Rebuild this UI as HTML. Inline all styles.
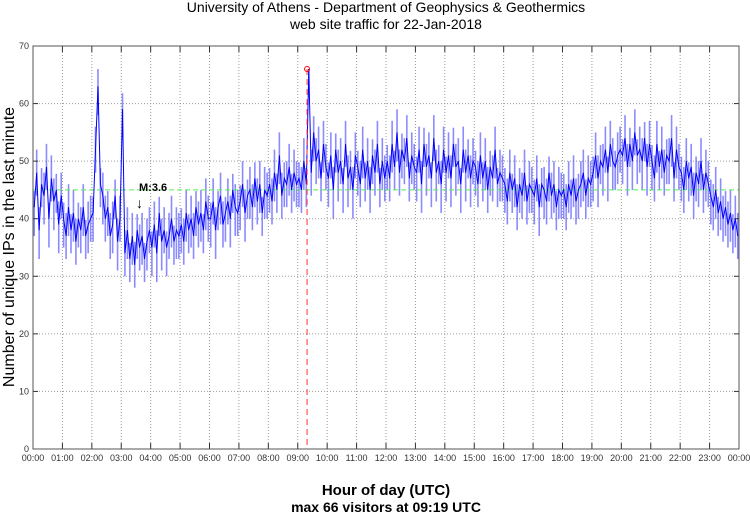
<!DOCTYPE html>
<html><head><meta charset="utf-8"><style>
body{margin:0;background:#fff;}
svg{display:block;font-family:"Liberation Sans",sans-serif;}
</style></head><body>
<svg id="chart" width="750" height="515">
<text x="386" y="12" text-anchor="middle" font-size="14">University of Athens - Department of Geophysics &amp; Geothermics</text>
<text x="386" y="29" text-anchor="middle" font-size="14">web site traffic for 22-Jan-2018</text>
<text transform="translate(14,247) rotate(-90)" text-anchor="middle" font-size="16">Number of unique IPs in the last minute</text>
<text x="386" y="495" text-anchor="middle" font-size="15" font-weight="bold">Hour of day (UTC)</text>
<text x="386" y="512" text-anchor="middle" font-size="14" font-weight="bold">max 66 visitors at 09:19 UTC</text>
<g id="grid"></g><g id="series"></g><g id="axes"></g>
</svg>
<script>
const yTicks=[0,10,20,30,40,50,60,70];
const xLabels=["00:00","01:00","02:00","03:00","04:00","05:00","06:00","07:00","08:00","09:00","10:00","11:00","12:00","13:00","14:00","15:00","16:00","17:00","18:00","19:00","20:00","21:00","22:00","23:00","00:00"];
const meanValue=45;
const maxValue=66;
const maxMinute=559;
// per-5-minute spread (low, high offsets) of the minute samples
const spreadLow=5;
const spreadHigh=4;
// 5-minute samples (288)
const traffic=[
42,48,38,46,44,49,40,47,43,45,39,44,
40,37,42,38,41,36,40,38,42,37,39,40,
41,52,63,46,44,40,42,37,39,44,36,40,
59,34,38,33,37,32,38,35,37,33,36,38,
35,39,34,41,36,38,35,37,40,36,38,37,
39,36,41,38,40,37,42,39,41,38,43,40,
40,43,38,42,44,39,41,43,40,45,42,41,
43,46,41,44,45,42,47,43,46,41,45,44,
46,43,48,45,51,44,47,46,49,45,48,46,
47,45,50,46,66,48,55,50,52,47,53,49,
47,51,45,52,48,50,46,53,47,49,45,51,
49,46,52,47,50,45,51,48,53,46,50,47,
50,47,53,49,55,48,52,50,54,47,51,49,
48,52,46,53,49,51,47,54,48,50,46,52,
48,51,47,53,49,50,46,52,48,51,47,50,
49,46,51,47,50,45,49,47,52,46,48,47,
46,43,48,45,47,42,46,44,48,43,46,45,
44,47,42,46,45,43,48,44,46,42,45,44,
45,42,46,44,47,43,45,46,48,44,47,46,
48,51,47,50,49,52,48,53,50,49,51,52,
51,54,49,53,50,55,51,52,50,54,49,53,
50,47,53,49,52,48,51,50,54,47,52,49,
48,45,50,47,49,44,48,46,50,45,48,46,
44,42,45,41,43,40,42,39,41,38,40,37
];
const L=33,R=739,T=46,B=449;
const sx=m=>L+(R-L)*m/1440;
const sy=v=>B-(B-T)*v/70;
const NS="http://www.w3.org/2000/svg";
function mk(tag,attrs,parent){const e=document.createElementNS(NS,tag);for(const k in attrs)e.setAttribute(k,attrs[k]);parent.appendChild(e);return e;}
const grid=document.getElementById('grid'),axes=document.getElementById('axes'),ser=document.getElementById('series');
yTicks.forEach(v=>{
 if(v>0&&v<70){const g=mk('line',{x1:L,x2:R,y1:sy(v),y2:sy(v),stroke:'#999','stroke-dasharray':'1,2','stroke-width':1},grid);
 
 }
 const t=mk('text',{x:L-4,y:sy(v)+3,'text-anchor':'end','font-size':9,fill:'#333'},axes);t.textContent=v;
 
 
 mk('line',{x1:L,x2:L+5,y1:sy(v),y2:sy(v),stroke:'#333'},axes);
 mk('line',{x1:R-5,x2:R,y1:sy(v),y2:sy(v),stroke:'#333'},axes);
});
xLabels.forEach((lab,i)=>{
 const x=sx(i*60);
 if(i>0&&i<24){const g=mk('line',{x1:x,x2:x,y1:T,y2:B,stroke:'#999','stroke-dasharray':'1,2','stroke-width':1},grid);
 
 }
 mk('line',{x1:x,x2:x,y1:B,y2:B-6,stroke:'#333'},axes);
 mk('line',{x1:x,x2:x,y1:T,y2:T+6,stroke:'#333'},axes);
 const t=mk('text',{x:x,y:B+12,'text-anchor':'middle','font-size':9,fill:'#333'},axes);t.textContent=lab;
 
 
});
const frame=mk('rect',{x:L,y:T,width:R-L,height:B-T,fill:'none',stroke:'#555','stroke-width':1},axes);


// noise strokes around each 5-minute sample
traffic.forEach((v,i)=>{
 const x=sx(i*5+2.5);
 const lo=v-spreadLow*(i%2?0.8:1);
 const hi=Math.min(v+spreadHigh*(i%3?1:0.7),maxValue);
 const b=mk('line',{x1:x,x2:x,y1:sy(lo),y2:sy(Math.max(hi,v)),stroke:'#5a5aff','stroke-width':1.6,'stroke-opacity':0.7},ser);
 
 
});
const ml=mk('line',{x1:L,x2:R,y1:sy(meanValue),y2:sy(meanValue),stroke:'#5e5','stroke-dasharray':'5,3','stroke-width':1},ser);


const pts=traffic.map((v,i)=>sx(i*5+2.5).toFixed(1)+','+sy(v).toFixed(1)).join(' ');
const pl=mk('polyline',{points:pts,fill:'none',stroke:'#00f','stroke-width':1},ser);


const vl=mk('line',{x1:sx(maxMinute),x2:sx(maxMinute),y1:sy(maxValue),y2:B,stroke:'#f33','stroke-dasharray':'6,4','stroke-width':1},ser);


const c=mk('circle',{cx:sx(maxMinute),cy:sy(maxValue),r:2.5,fill:'none',stroke:'#f00','stroke-width':1},ser);


const mt=mk('text',{x:139,y:191,'font-size':11,'font-weight':'bold'},ser);mt.textContent='M:3.6';


const ar=mk('text',{x:136,y:208,'font-size':14},ser);ar.textContent='↓';


</script>
</body></html>
